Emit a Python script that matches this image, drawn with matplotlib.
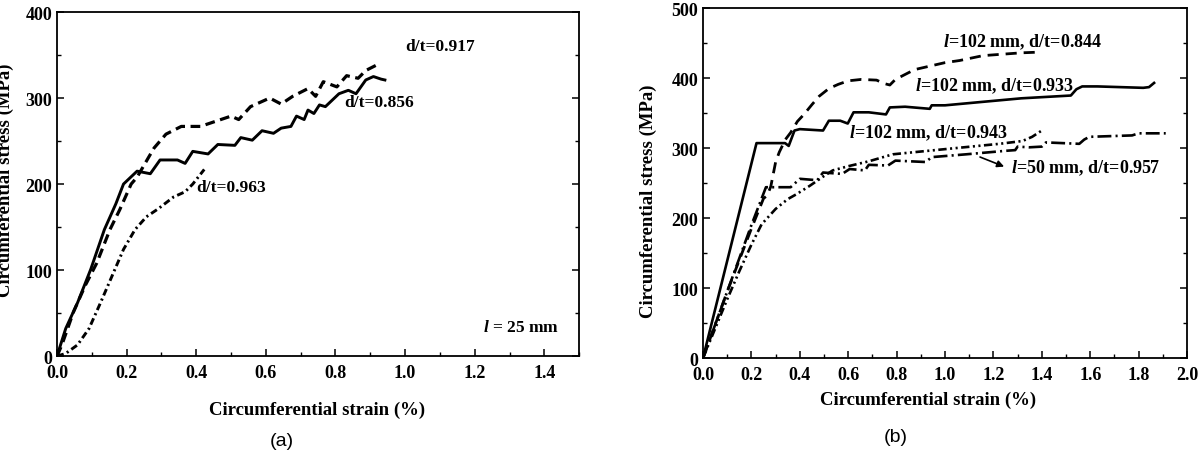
import numpy as np
import matplotlib
matplotlib.use('Agg')
import matplotlib.pyplot as plt
from matplotlib.ticker import MultipleLocator

plt.rcParams['font.family'] = 'Liberation Serif'
plt.rcParams['font.weight'] = 'bold'
plt.rcParams['lines.scale_dashes'] = False
plt.rcParams['mathtext.fontset'] = 'custom'
plt.rcParams['mathtext.bfit'] = 'Liberation Serif:bold:italic'
plt.rcParams['mathtext.it'] = 'Liberation Serif:bold:italic'
plt.rcParams['mathtext.rm'] = 'Liberation Serif:bold'
plt.rcParams['mathtext.bf'] = 'Liberation Serif:bold'

# ---- (a) l = 25 mm ----
a_x_856 = [0, 0.025, 0.059, 0.097, 0.136, 0.169, 0.191, 0.23, 0.268, 0.296, 0.346, 0.368, 0.39, 0.434,
           0.462, 0.511, 0.528, 0.561, 0.589, 0.622, 0.644, 0.672, 0.688, 0.71, 0.721, 0.738, 0.754,
           0.771, 0.81, 0.837, 0.859, 0.887, 0.909, 0.931, 0.942]
a_y_856 = [0, 32, 62, 101, 147, 177, 200, 215, 212, 228, 228, 224, 238, 235,
           246, 245, 254, 251, 262, 259, 265, 267, 279, 275, 286, 282, 292,
           290, 305, 309, 305, 321, 325, 322, 321]

a_x_917 = [0, 0.014, 0.047, 0.081, 0.114, 0.152, 0.18, 0.213, 0.23, 0.263, 0.279, 0.313, 0.357, 0.412,
           0.456, 0.5, 0.522, 0.556, 0.611, 0.644, 0.677, 0.721, 0.743, 0.765, 0.804, 0.832, 0.865,
           0.887, 0.926]
a_y_917 = [0, 13, 51, 82, 108, 147, 170, 200, 208, 231, 242, 258, 267, 267,
           273, 279, 275, 290, 300, 293, 302, 311, 302, 319, 313, 326, 323,
           332, 340]

a_x_963 = [0, 0.025, 0.059, 0.092, 0.125, 0.158, 0.191, 0.224, 0.257, 0.29, 0.335, 0.368, 0.39, 0.423]
a_y_963 = [0, 3, 13, 32, 62, 93, 124, 147, 162, 171, 185, 191, 200, 217]

# ---- (b) ----
b_x_933 = [0, 0.221, 0.339, 0.354, 0.378, 0.4, 0.496, 0.52, 0.567, 0.598, 0.622, 0.685, 0.756, 0.772,
           0.835, 0.937, 0.945, 1.0, 1.157, 1.315, 1.52, 1.543, 1.567, 1.63, 1.819, 1.843, 1.864]
b_y_933 = [0, 307, 307, 303, 325, 327, 325, 339, 339, 335, 351, 351, 348, 358,
           359, 356, 361, 361, 366, 371, 375, 384, 388, 388, 386, 387, 393]

b_x_844 = [0, 0.1, 0.2, 0.25, 0.265, 0.28, 0.3, 0.315, 0.34, 0.362, 0.39, 0.417, 0.45, 0.48, 0.52,
           0.559, 0.6, 0.654, 0.717, 0.75, 0.772, 0.795, 0.874, 1.0, 1.06, 1.157, 1.315, 1.39]
b_y_844 = [0, 95, 185, 228, 232, 245, 280, 294, 312, 322, 338, 348, 362, 374, 385,
           391, 396, 398, 397, 392, 390, 398, 412, 422, 425, 432, 436, 437]

b_x_943 = [0, 0.05, 0.1, 0.15, 0.2, 0.242, 0.3, 0.35, 0.386, 0.441, 0.5, 0.536, 0.6, 0.685,
           0.784, 0.9, 1.018, 1.225, 1.32, 1.36, 1.40]
b_y_943 = [0, 42, 84, 124, 162, 191, 213, 227, 234, 246, 260, 268, 274, 281,
           291, 295, 299, 306, 310, 316, 325]

b_x_957 = [0, 0.1, 0.2, 0.26, 0.362, 0.4, 0.472, 0.496, 0.575, 0.606, 0.669, 0.685, 0.764, 0.795,
           0.92, 0.945, 1.087, 1.25, 1.29, 1.30, 1.348, 1.40, 1.417, 1.555, 1.575, 1.596, 1.773,
           1.80, 1.912]
b_y_957 = [0, 95, 190, 244, 244, 256, 254, 265, 263, 270, 268, 276, 275, 282,
           280, 287, 291, 296, 297, 302, 301, 302, 308, 306, 312, 316, 318,
           321, 321]

fig = plt.figure(figsize=(12.03, 4.56), dpi=100)
ax1 = fig.add_axes([0.0474, 0.217, 0.434, 0.7544])
ax2 = fig.add_axes([0.5844, 0.2127, 0.4023, 0.7675])

ax1.plot(a_x_917, a_y_917, color='k', lw=2.3, ls=(0, (7, 4)))
ax1.plot(a_x_856, a_y_856, color='k', lw=2.1)
ax1.plot(a_x_963, a_y_963, color='k', lw=2.1, ls=(0, (5, 2.5, 1.5, 2.5)))

ax2.plot(b_x_844, b_y_844, color='k', lw=2.0, ls=(0, (8, 5)))
ax2.plot(b_x_933, b_y_933, color='k', lw=1.9)
ax2.plot(b_x_943, b_y_943, color='k', lw=1.9, ls=(0, (6, 2.5, 1.5, 2.5, 1.5, 2.5)))
ax2.plot(b_x_957, b_y_957, color='k', lw=1.9, ls=(0, (10, 3, 1.5, 3)))

for ax, xmax, ymax in [(ax1, 1.5, 400), (ax2, 2.0, 500)]:
    ax.set_xlim(0, xmax)
    ax.set_ylim(0, ymax)
    ax.xaxis.set_major_locator(MultipleLocator(0.2))
    ax.xaxis.set_minor_locator(MultipleLocator(0.1))
    ax.yaxis.set_major_locator(MultipleLocator(100))
    ax.yaxis.set_minor_locator(MultipleLocator(50))
    ax.tick_params(which='both', direction='in', right=True, top=False, labelsize=13)
    ax.tick_params(axis='x', which='major', pad=6)
    ax.tick_params(which='major', length=5, width=1.1)
    ax.tick_params(which='minor', length=3, width=1.0)
    for s in ax.spines.values():
        s.set_linewidth(1.3)
    for lab in ax.get_xticklabels() + ax.get_yticklabels():
        lab.set_fontweight('bold')

ax1.text(1.0, 361, 'd/t=0.917', fontsize=12.5, va='center')
ax1.text(0.824, 295, 'd/t=0.856', fontsize=12.5, va='center')
ax1.text(0.399, 197, 'd/t=0.963', fontsize=12.5, va='center')
ax1.text(1.224, 34, '$\\mathit{l}$ = 25 mm', fontsize=12.5, va='center')

ax2.text(0.99, 453, '$\\mathit{l}$=102 mm, d/t=0.844', fontsize=13, va='center')
ax2.text(0.877, 390, '$\\mathit{l}$=102 mm, d/t=0.933', fontsize=13, va='center')
ax2.text(0.603, 322, '$\\mathit{l}$=102 mm, d/t=0.943', fontsize=13, va='center')
ax2.text(1.271, 272, '$\\mathit{l}$=50 mm, d/t=0.957', fontsize=13, va='center')
ax2.annotate('', xy=(1.255, 272), xytext=(1.134, 288.6),
             arrowprops=dict(arrowstyle='-|>', color='k', lw=1.2, mutation_scale=10))

fig.text(317 / 1203, 1 - 410 / 456, 'Circumferential strain (%)', fontsize=13.5,
         ha='center', va='center', fontweight='bold')
fig.text(928 / 1203, 1 - 400 / 456, 'Circumferential strain (%)', fontsize=13.5,
         ha='center', va='center', fontweight='bold')
fig.text(5 / 1203, 1 - 180 / 456, 'Circumferential stress (MPa)', fontsize=13.5, rotation=90,
         ha='center', va='center', fontweight='bold')
fig.text(648 / 1203, 1 - 201 / 456, 'Circumferential stress (MPa)', fontsize=13.5, rotation=90,
         ha='center', va='center', fontweight='bold')
fig.text(282 / 1203, 1 - 442 / 456, '(a)', fontsize=14, ha='center', va='center',
         family='Liberation Sans', fontweight='normal')
fig.text(896 / 1203, 1 - 438 / 456, '(b)', fontsize=14, ha='center', va='center',
         family='Liberation Sans', fontweight='normal')

fig.savefig('out.png', dpi=100)
